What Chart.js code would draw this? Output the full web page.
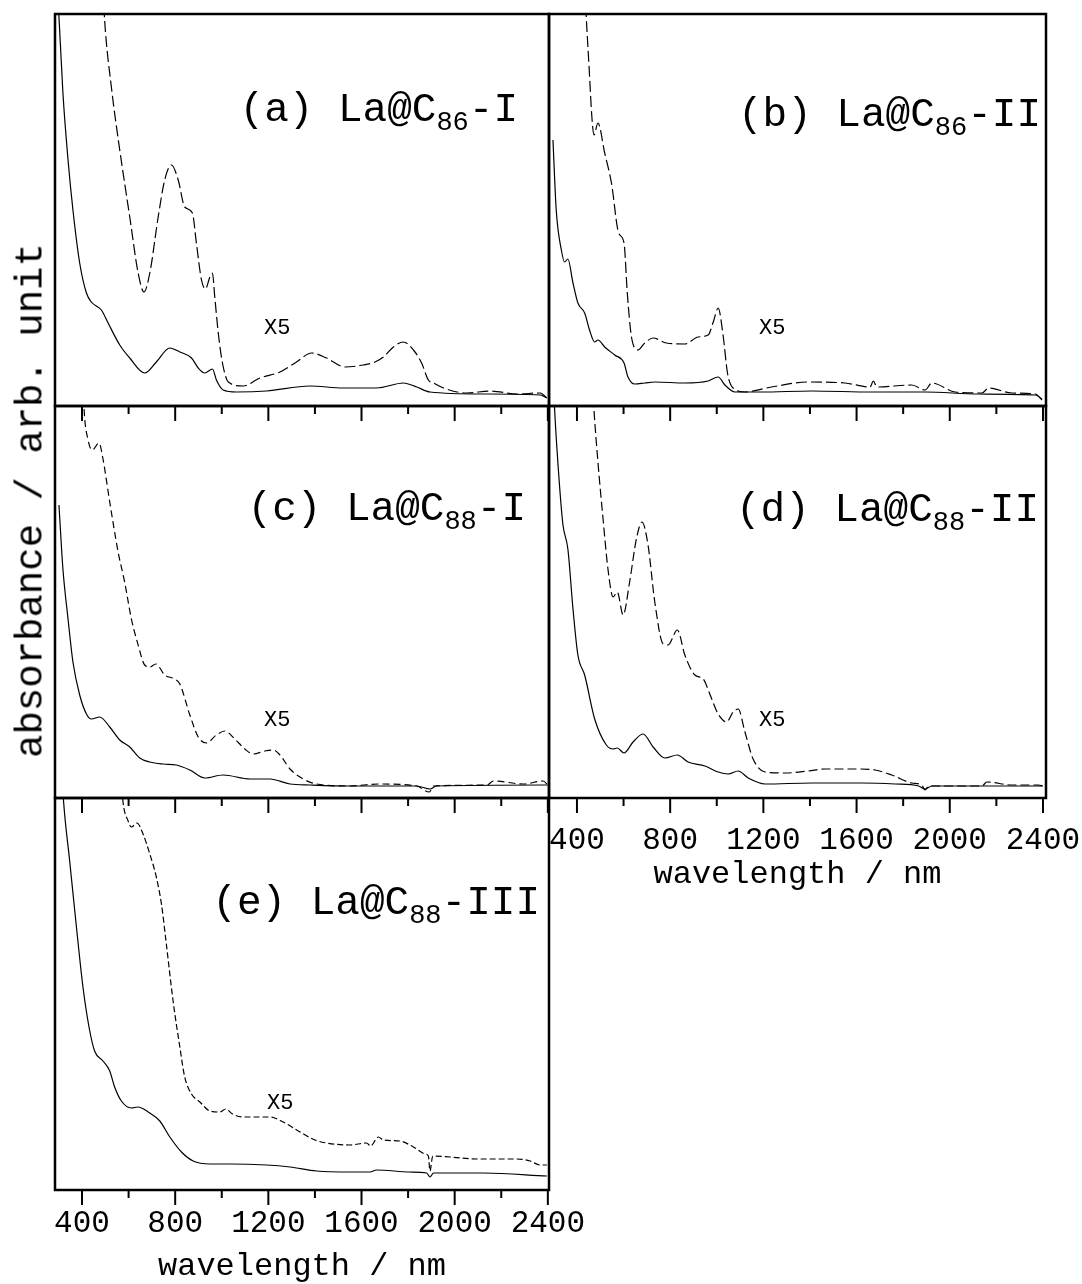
<!DOCTYPE html>
<html><head><meta charset="utf-8">
<script src="https://cdn.jsdelivr.net/npm/chart.js@4.4.0/dist/chart.umd.min.js"></script>
<style>
html,body{margin:0;padding:0;background:#fff;width:1082px;height:1284px;overflow:hidden;}
#wrap{position:relative;width:1082px;height:1284px;overflow:hidden;background:#fff;}
canvas{position:absolute;}
.t{position:absolute;font-family:"Liberation Mono","Courier New",monospace;color:#000;white-space:nowrap;z-index:5;}
.lbl{font-size:41px;line-height:41px;text-align:right;}
.lbl span{font-size:27px;position:relative;top:9px;line-height:0;}
.x5{font-size:22px;line-height:22px;}
.ytitle{font-size:39px;line-height:39px;width:600px;text-align:center;transform:rotate(-90deg);}
</style>
</head>
<body>
<div id="wrap">
  <div class="t ytitle" style="left:-268px;top:481px;">absorbance / arb. unit</div>
  <div class="t lbl" style="right:564px;top:90px;">(a) La@C<span>86</span>-I</div>
  <div class="t lbl" style="right:41px;top:95px;">(b) La@C<span>86</span>-II</div>
  <div class="t lbl" style="right:556px;top:489px;">(c) La@C<span>88</span>-I</div>
  <div class="t lbl" style="right:43px;top:490px;">(d) La@C<span>88</span>-II</div>
  <div class="t lbl" style="right:542px;top:883px;">(e) La@C<span>88</span>-III</div>
  <div class="t x5" style="left:264px;top:318px;">X5</div>
  <div class="t x5" style="left:759px;top:318px;">X5</div>
  <div class="t x5" style="left:264px;top:710px;">X5</div>
  <div class="t x5" style="left:759px;top:710px;">X5</div>
  <div class="t x5" style="left:267px;top:1093px;">X5</div>
</div>
<script>
// ---- tick values (nm) ----
const majorTicks = [400, 800, 1200, 1600, 2000, 2400];
const minorTicks = [600, 1000, 1400, 1800, 2200];
const tickLabels = [400, 800, 1200, 1600, 2000, 2400];

// ---- (a) La@C86-I ----
const aSolidWl  = [299,301,318,340,361,390,419,440,483,512,562,605,669,719,777,820,870,899,927,960,977,1006,1063,1192,1378,1522,1665,1780,1837,1894,2123,2367,2396];
const aSolidAbs = [400,389,313,246,196,143,113,104,96,83,61,48,33,44,58,54,48,38,33,37,26,16,14,15,20,18,18,23,19,14,12,11,8];
const aDashWl   = [494,497,526,562,605,641,666,691,727,755,784,813,841,874,891,913,930,949,960,970,985,1003,1028,1092,1164,1250,1321,1386,1450,1529,1608,1658,1694,1737,1780,1823,1858,1887,1909,1952,2052,2152,2267,2367,2396];
const aDashAbs  = [400,386,319,256,189,133,114,133,189,226,241,226,199,193,163,126,117,129,133,109,73,43,24,20,28,34,44,53,48,39,41,44,49,59,64,56,43,26,23,18,13,15,12,13,8];

// ---- (b) La@C86-II ----
const bSolidWl  = [297,311,333,347,361,383,404,433,454,476,490,519,562,602,619,648,691,734,863,963,1006,1035,1078,1192,1407,1665,1894,2123,2367,2396];
const bSolidAbs = [266,196,156,144,147,123,103,93,76,64,66,59,51,43,29,22,23,24,23,25,29,21,14,14,15,14,14,12,11,7];
const bDashWl   = [438,440,452,464,473,490,519,548,579,602,616,634,662,691,727,784,863,920,963,985,1006,1028,1046,1070,1121,1235,1393,1550,1658,1672,1687,1837,1894,1923,2023,2138,2167,2267,2367,2396];
const bDashAbs  = [400,389,339,289,271,283,253,223,173,163,113,69,56,63,68,63,62,69,71,84,98,69,33,18,14,19,24,23,19,25,19,21,16,23,14,13,18,13,12,6];

// ---- (c) La@C88-I ----
const cSolidWl  = [301,318,340,361,390,419,440,476,519,562,605,648,691,748,805,863,927,1006,1121,1207,1293,1379,1550,1837,1894,1923,2381,2400];
const cSolidAbs = [293,229,179,136,103,84,79,81,71,58,51,40,36,34,33,28,20,23,19,19,14,13,12,12,9,12,13,13];
const cDashWl   = [407,409,426,444,473,490,519,555,583,612,641,669,691,717,755,798,820,863,899,934,977,1013,1056,1099,1135,1185,1221,1250,1293,1350,1407,1550,1672,1837,1891,1909,2138,2167,2295,2381,2399];
const cDashAbs  = [400,388,358,348,355,339,296,246,216,179,153,133,131,134,123,119,114,83,61,55,63,67,59,49,44,47,48,43,29,19,14,12,14,12,6,12,13,17,14,17,13];

// ---- (d) La@C88-II ----
const dSolidWl  = [302,304,325,340,361,383,404,433,476,526,555,573,602,641,684,727,777,831,877,949,1006,1049,1092,1135,1207,1407,1622,1765,1866,1894,1923,2381,2400];
const dSolidAbs = [400,389,313,273,249,189,143,123,79,53,49,50,45,56,64,51,40,43,36,32,26,24,27,20,14,15,15,14,12,9,12,12,12];
const dDashWl   = [470,473,490,512,533,555,573,598,626,655,679,705,734,770,791,831,863,906,942,970,1006,1042,1070,1092,1121,1156,1207,1293,1393,1465,1608,1680,1751,1837,1880,1894,1909,2138,2159,2267,2381,2400];
const dDashAbs  = [400,388,336,279,229,201,206,183,216,259,276,253,196,154,153,168,143,123,119,104,84,76,86,89,66,39,26,25,27,29,29,28,23,15,13,8,12,12,16,13,13,12];

// ---- (e) La@C88-III ----
const eSolidWl  = [318,321,347,376,404,430,454,490,519,540,569,612,641,684,734,777,827,877,949,1035,1192,1293,1407,1550,1636,1665,1808,1880,1894,1909,2123,2396];
const eSolidAbs = [400,388,329,263,203,163,139,129,119,103,89,82,83,78,69,53,38,29,26,26,25,23,19,18,18,20,18,17,13,17,17,14];
const eDashWl   = [572,576,598,612,636,662,691,719,741,762,791,820,841,870,906,949,992,1017,1046,1092,1149,1207,1264,1336,1400,1450,1550,1622,1639,1672,1694,1765,1823,1873,1887,1894,1906,1980,2095,2167,2267,2324,2367,2396];
const eDashAbs  = [400,388,369,363,367,356,336,313,286,246,189,143,113,96,88,79,78,81,76,73,73,73,68,58,50,47,45,47,44,53,50,49,43,36,34,19,34,33,31,31,31,29,25,25];

const FONT = '"Liberation Mono", "Courier New", monospace';

const framePlugin = {
  id: 'frame',
  afterDraw(chart) {
    const ctx = chart.ctx, a = chart.chartArea, x = chart.scales.x;
    ctx.save();
    ctx.strokeStyle = '#000';
    ctx.lineWidth = 2;
    majorTicks.forEach(v => { const p = x.getPixelForValue(v); ctx.beginPath(); ctx.moveTo(p, a.bottom); ctx.lineTo(p, a.bottom + 15); ctx.stroke(); });
    minorTicks.forEach(v => { const p = x.getPixelForValue(v); ctx.beginPath(); ctx.moveTo(p, a.bottom); ctx.lineTo(p, a.bottom + 8); ctx.stroke(); });
    ctx.lineWidth = 2.5;
    ctx.strokeRect(a.left, a.top, a.right - a.left, a.bottom - a.top);
    ctx.restore();
  }
};

function pts(wl, ab) { return wl.map((w, i) => ({x: w, y: ab[i]})); }

function makePanel(L, T, W, H, xmin, xmax, sWl, sAb, dWl, dAb, dash, withAxis, labelPad) {
  const PADX = 80, PADT = 12, AX = 96, PADB = 24;
  const c = document.createElement('canvas');
  const cw = W + 2 * PADX, ch = PADT + H + (withAxis ? AX : PADB);
  c.width = cw; c.height = ch;
  c.style.left = (L - PADX) + 'px'; c.style.top = (T - PADT) + 'px';
  c.style.width = cw + 'px'; c.style.height = ch + 'px';
  const wrap = document.getElementById('wrap');
  wrap.insertBefore(c, wrap.firstChild);
  new Chart(c, {
    type: 'line',
    data: { datasets: [
      { data: pts(sWl, sAb), borderColor: '#000', borderWidth: 1.2, pointRadius: 0, fill: false, cubicInterpolationMode: 'monotone' },
      { data: pts(dWl, dAb), borderColor: '#000', borderWidth: 1.2, borderDash: dash, pointRadius: 0, fill: false, cubicInterpolationMode: 'monotone' }
    ]},
    options: {
      responsive: false, animation: false, devicePixelRatio: 1,
      layout: { padding: { left: PADX, right: PADX, top: PADT, bottom: withAxis ? 0 : PADB } },
      plugins: { legend: { display: false }, tooltip: { enabled: false } },
      scales: {
        x: {
          type: 'linear', min: xmin, max: xmax, display: withAxis,
          grid: { display: false, drawTicks: false }, border: { display: false },
          afterBuildTicks: s => { s.ticks = tickLabels.map(v => ({ value: v })); },
          afterFit: s => { s.height = withAxis ? AX : 0; },
          ticks: { autoSkip: false, maxRotation: 0, minRotation: 0, padding: labelPad, color: '#000',
                   font: { family: FONT, size: 31 }, callback: v => String(v) },
          title: { display: withAxis, text: 'wavelength / nm', color: '#000',
                   font: { family: FONT, size: 32 }, padding: { top: 0, bottom: 0 } }
        },
        y: { display: false, min: 0, max: 392 }
      }
    },
    plugins: [framePlugin]
  });
}

makePanel(55, 14, 494, 392, 284, 2405, aSolidWl, aSolidAbs, aDashWl, aDashAbs, [11, 4], false, 0);
makePanel(549, 14, 497, 392, 280, 2413, bSolidWl, bSolidAbs, bDashWl, bDashAbs, [11, 4], false, 0);
makePanel(55, 406, 494, 392, 284, 2405, cSolidWl, cSolidAbs, cDashWl, cDashAbs, [7, 4], false, 0);
makePanel(549, 406, 497, 392, 280, 2413, dSolidWl, dSolidAbs, dDashWl, dDashAbs, [9, 4], true, 24);
makePanel(55, 798, 494, 392, 284, 2405, eSolidWl, eSolidAbs, eDashWl, eDashAbs, [6, 3], true, 15);
</script>
</body></html>
